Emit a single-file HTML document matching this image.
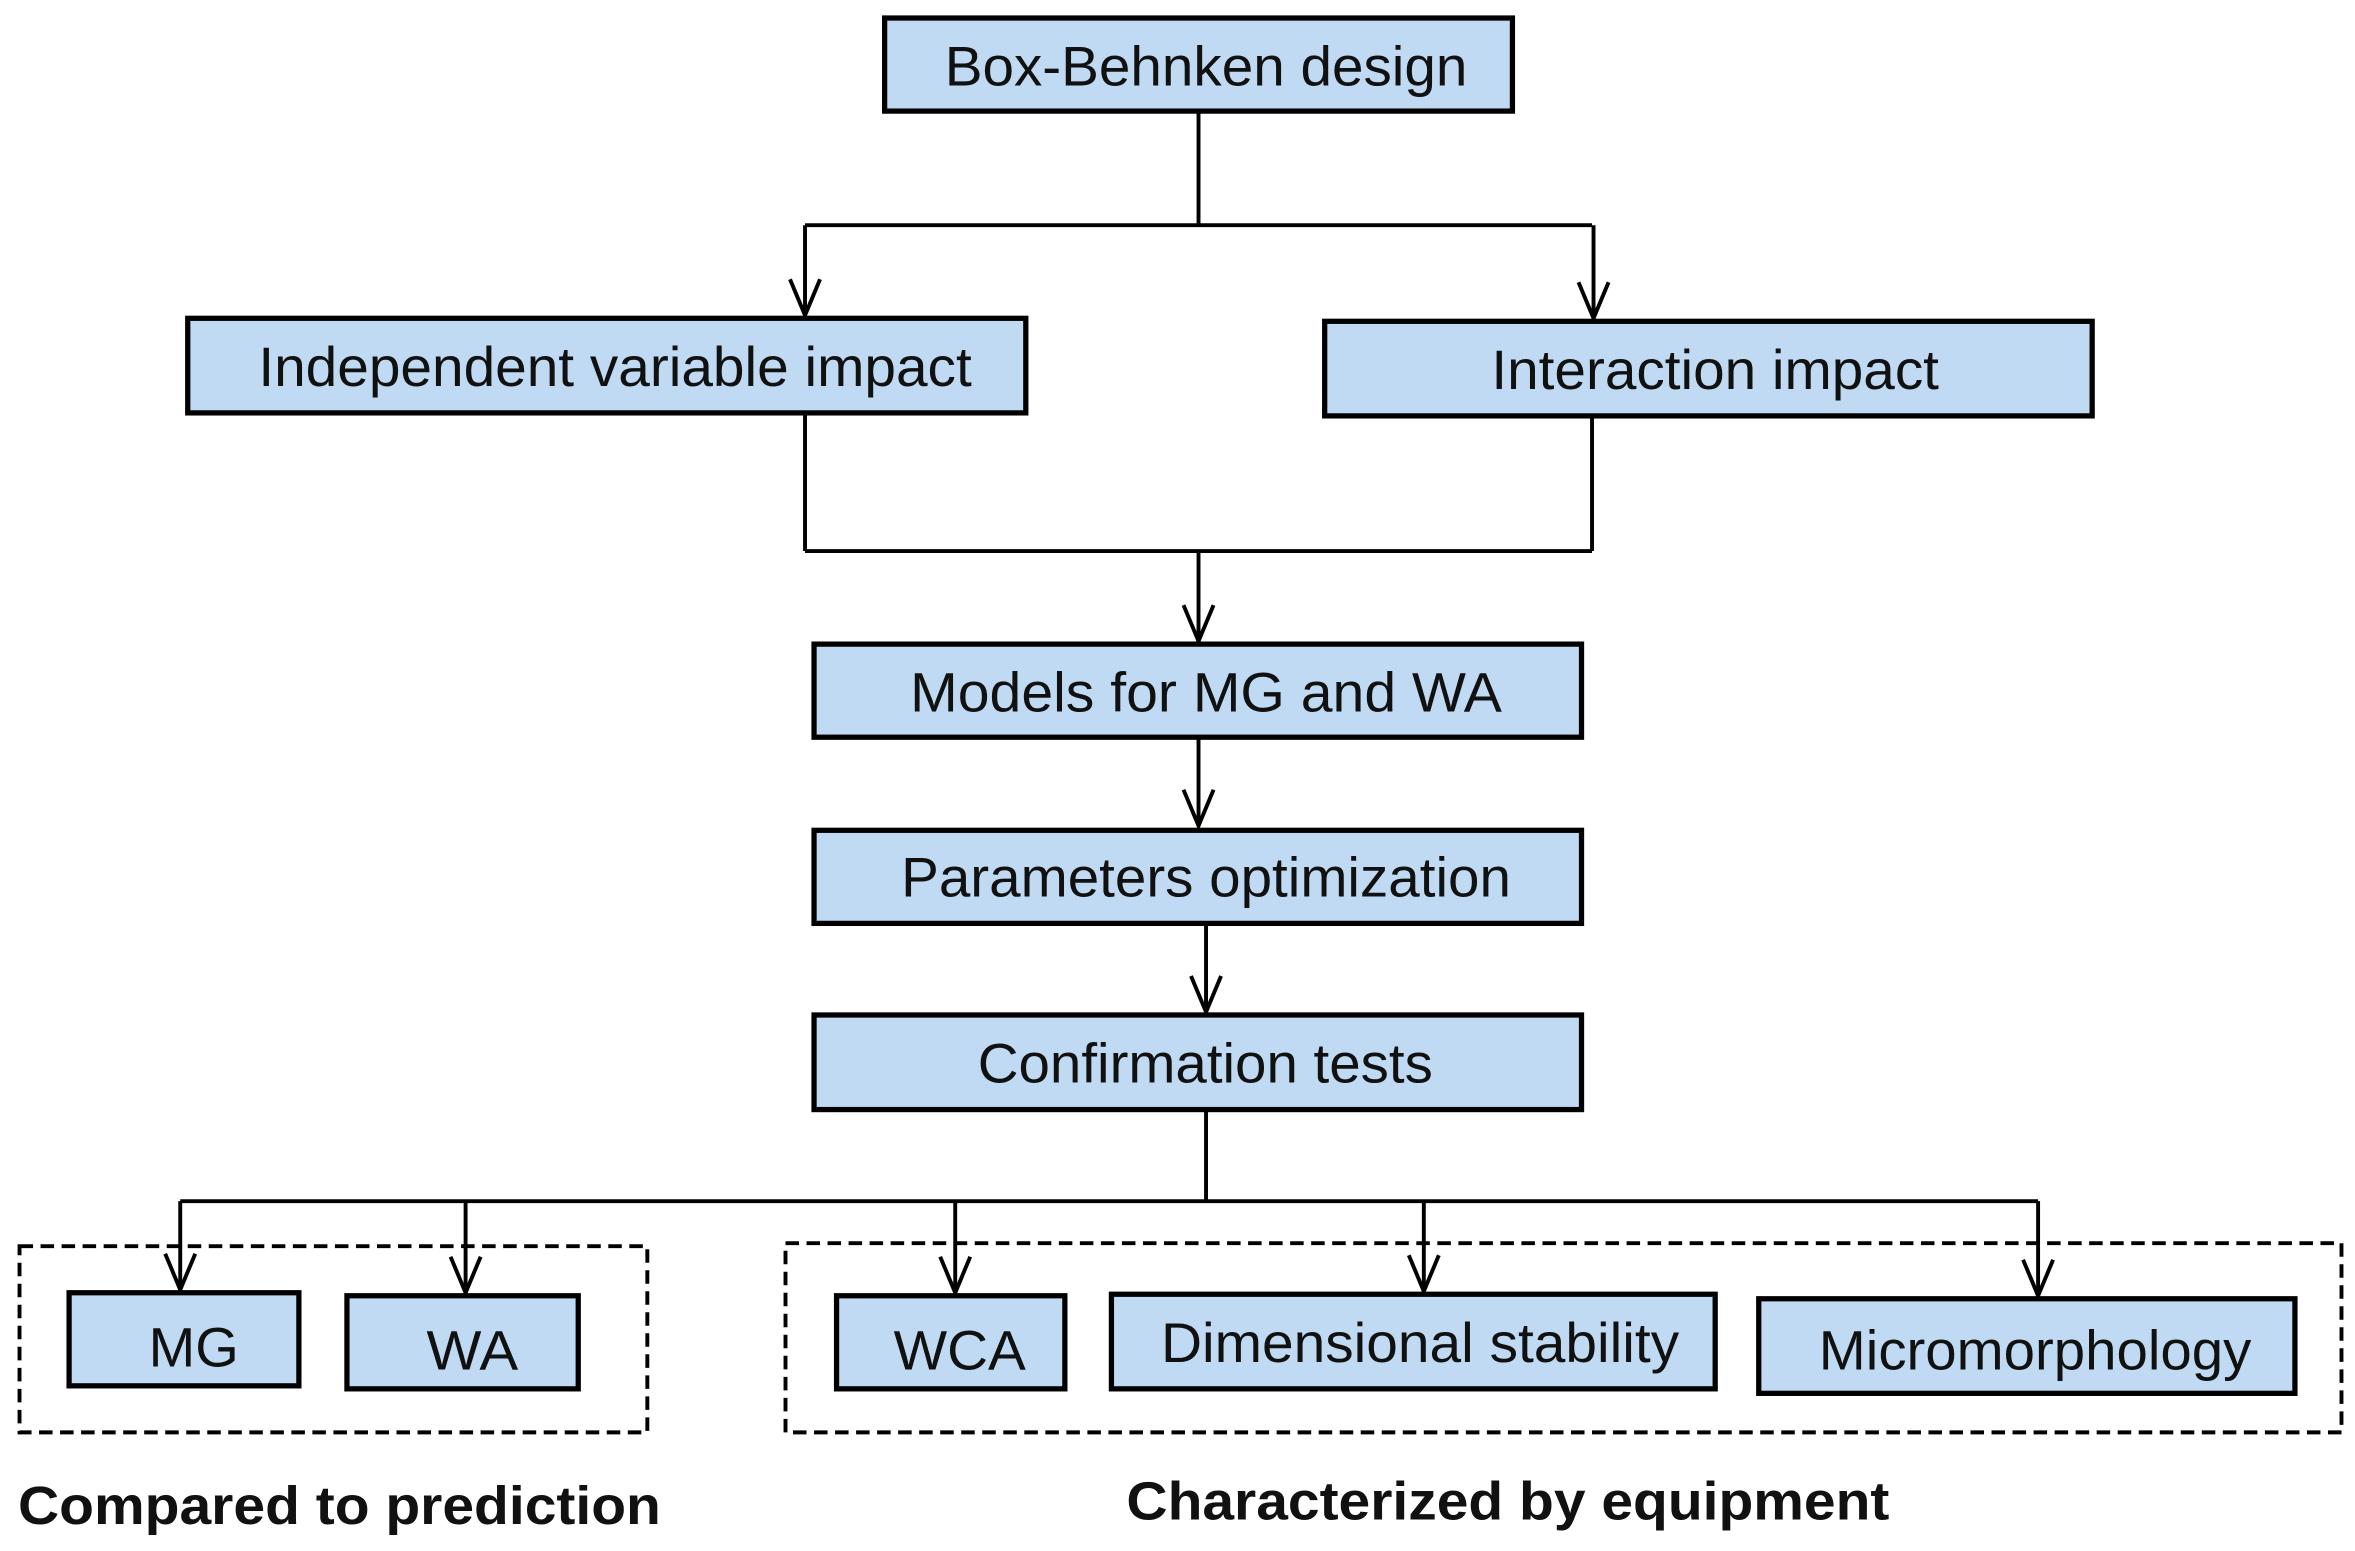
<!DOCTYPE html>
<html><head><meta charset="utf-8"><style>
html,body{margin:0;padding:0;background:#fff;}
svg{display:block;}
text{font-family:"Liberation Sans",Arial,sans-serif;font-size:37px;fill:#111;}
.b{font-weight:bold;font-size:36px;}
</style></head><body>
<svg width="2355" height="1551" viewBox="0 0 1568 1033" preserveAspectRatio="none" xmlns="http://www.w3.org/2000/svg">
<rect width="1568" height="1033" fill="#fff"/>
<g stroke="#000" stroke-width="2.6" fill="none">
<path d="M798 74 V150 M536 150 H1060 M536 150 V210 M1061 150 V212"/>
<path d="M536 275 V367 M1060 277 V367 M536 367 H1060 M798 367 V427"/>
<path d="M798 491 V550 M803 615 V674 M803 739 V800 M120 800 H1357"/>
<path d="M120 800 V859 M310 800 V861 M636 800 V861 M948 800 V860 M1357 800 V863"/>
<path d="M526 186 L536 210 L546 186 M1051 188 L1061 212 L1071 188 M788 403 L798 427 L808 403 M788 526 L798 550 L808 526 M793 650 L803 674 L813 650 M110 835 L120 859 L130 835 M300 837 L310 861 L320 837 M626 837 L636 861 L646 837 M938 836 L948 860 L958 836 M1347 839 L1357 863 L1367 839"/>
<rect x="13" y="830" width="418" height="124" stroke-dasharray="9,5"/>
<rect x="523" y="828" width="1036" height="126" stroke-dasharray="9,5"/>
</g>
<g stroke="#000" stroke-width="3.5" fill="#bfdaf2">
<rect x="589" y="12" width="418" height="62"/>
<rect x="125" y="212" width="558" height="63"/>
<rect x="882" y="214" width="511" height="63"/>
<rect x="542" y="429" width="511" height="62"/>
<rect x="542" y="553" width="511" height="62"/>
<rect x="542" y="676" width="511" height="63"/>
<rect x="46" y="861" width="153" height="62"/>
<rect x="231" y="863" width="154" height="62"/>
<rect x="557" y="863" width="152" height="62"/>
<rect x="740" y="862" width="402" height="63"/>
<rect x="1171" y="865" width="357" height="63"/>
</g>
<text x="629" y="57" textLength="348" lengthAdjust="spacingAndGlyphs">Box-Behnken design</text>
<text x="172" y="257" textLength="475" lengthAdjust="spacingAndGlyphs">Independent variable impact</text>
<text x="993" y="259" textLength="298" lengthAdjust="spacingAndGlyphs">Interaction impact</text>
<text x="606" y="474" textLength="394" lengthAdjust="spacingAndGlyphs">Models for MG and WA</text>
<text x="600" y="597" textLength="406" lengthAdjust="spacingAndGlyphs">Parameters optimization</text>
<text x="651" y="721" textLength="303" lengthAdjust="spacingAndGlyphs">Confirmation tests</text>
<text x="99" y="910" textLength="60" lengthAdjust="spacingAndGlyphs">MG</text>
<text x="284" y="912" textLength="61" lengthAdjust="spacingAndGlyphs">WA</text>
<text x="595" y="912" textLength="88" lengthAdjust="spacingAndGlyphs">WCA</text>
<text x="773" y="907" textLength="345" lengthAdjust="spacingAndGlyphs">Dimensional stability</text>
<text x="1211" y="912" textLength="288" lengthAdjust="spacingAndGlyphs">Micromorphology</text>
<text class="b" x="12" y="1015" textLength="428" lengthAdjust="spacingAndGlyphs">Compared to prediction</text>
<text class="b" x="750" y="1012" textLength="508" lengthAdjust="spacingAndGlyphs">Characterized by equipment</text>
</svg>
</body></html>
